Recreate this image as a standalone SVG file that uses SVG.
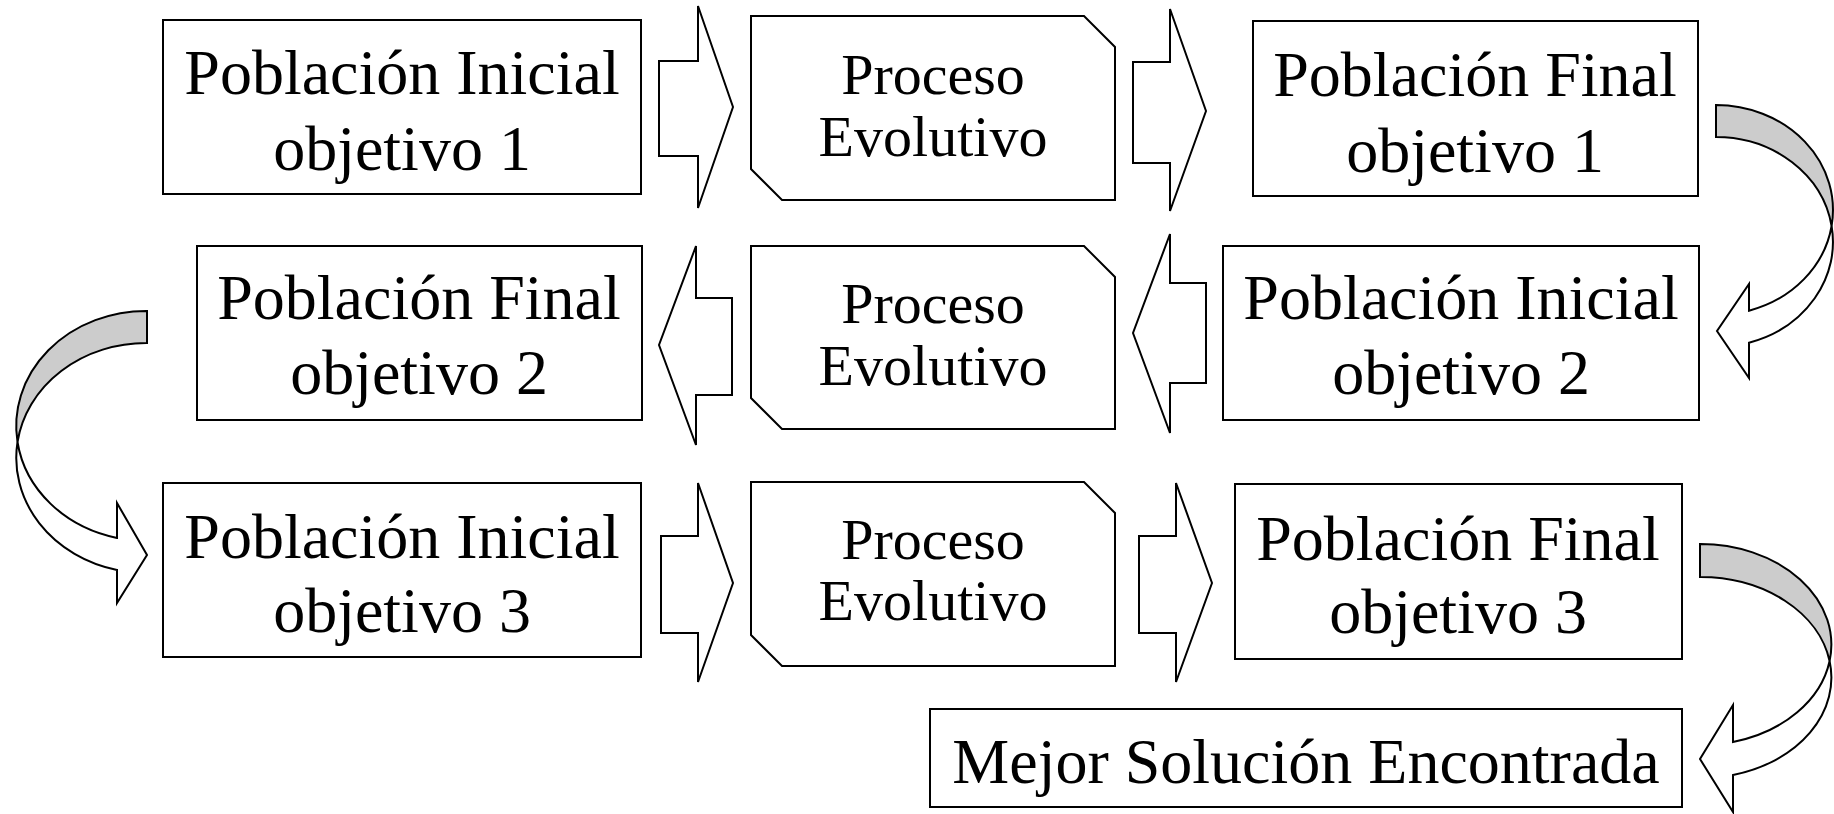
<svg xmlns="http://www.w3.org/2000/svg" width="1834" height="814" viewBox="0 0 1834 814">
  <style>
    .box { fill: #ffffff; stroke: #000000; stroke-width: 2; }
    .arrow { fill: #ffffff; stroke: #000000; stroke-width: 2; stroke-linejoin: miter; }
    .back { fill: #cccccc; stroke: #000000; stroke-width: 2; }
    .big { font-family: "Liberation Serif", "Times New Roman", serif; font-size: 64px; fill: #000000; text-anchor: middle; }
    .proc { font-family: "Liberation Serif", "Times New Roman", serif; font-size: 58px; fill: #000000; text-anchor: middle; }
  </style>
  <rect width="1834" height="814" fill="#ffffff"/>

  <!-- Row 1 -->
  <g id="pob-ini-1">
    <rect class="box" x="163" y="20" width="478" height="174"/>
    <text class="big" x="402" y="94">Población Inicial</text>
    <text class="big" x="402" y="170">objetivo 1</text>
  </g>
  <g id="proc-1">
    <path class="box" d="M751,16 H1084 L1115,47 V200 H782 L751,169 Z"/>
    <text class="proc" x="933" y="94">Proceso</text>
    <text class="proc" x="933" y="156">Evolutivo</text>
  </g>
  <g id="pob-fin-1">
    <rect class="box" x="1253" y="21" width="445" height="175"/>
    <text class="big" x="1475" y="96">Población Final</text>
    <text class="big" x="1475" y="172">objetivo 1</text>
  </g>

  <!-- Row 2 -->
  <g id="pob-fin-2">
    <rect class="box" x="197" y="246" width="445" height="174"/>
    <text class="big" x="419" y="319">Población Final</text>
    <text class="big" x="419" y="394">objetivo 2</text>
  </g>
  <g id="proc-2">
    <path class="box" d="M751,246 H1084 L1115,277 V429 H782 L751,398 Z"/>
    <text class="proc" x="933" y="323">Proceso</text>
    <text class="proc" x="933" y="385">Evolutivo</text>
  </g>
  <g id="pob-ini-2">
    <rect class="box" x="1223" y="246" width="476" height="174"/>
    <text class="big" x="1461" y="319">Población Inicial</text>
    <text class="big" x="1461" y="394">objetivo 2</text>
  </g>

  <!-- Row 3 -->
  <g id="pob-ini-3">
    <rect class="box" x="163" y="483" width="478" height="174"/>
    <text class="big" x="402" y="558">Población Inicial</text>
    <text class="big" x="402" y="632">objetivo 3</text>
  </g>
  <g id="proc-3">
    <path class="box" d="M751,482 H1084 L1115,513 V666 H782 L751,635 Z"/>
    <text class="proc" x="933" y="559">Proceso</text>
    <text class="proc" x="933" y="620">Evolutivo</text>
  </g>
  <g id="pob-fin-3">
    <rect class="box" x="1235" y="484" width="447" height="175"/>
    <text class="big" x="1458" y="560">Población Final</text>
    <text class="big" x="1458" y="633">objetivo 3</text>
  </g>

  <!-- Row 4 -->
  <g id="mejor-solucion">
    <rect class="box" x="930" y="709" width="752" height="98"/>
    <text class="big" x="1306" y="783">Mejor Solución Encontrada</text>
  </g>

  <g id="connectors">
    <!-- straight block arrows -->
    <polygon class="arrow" points="659,61 698,61 698,6 733,107 698,208 698,156 659,156"/>
    <polygon class="arrow" points="1133,62 1170,62 1170,9 1206,111 1170,211 1170,163 1133,163"/>
    <polygon class="arrow" points="732,298 696,298 696,246 659,345 696,445 696,395 732,395"/>
    <polygon class="arrow" points="1206,283 1170,283 1170,234 1133,333 1170,433 1170,383 1206,383"/>
    <polygon class="arrow" points="661,536 698,536 698,483 733,583 698,682 698,633 661,633"/>
    <polygon class="arrow" points="1139,536 1176,536 1176,483 1212,583 1176,682 1176,633 1139,633"/>

    <!-- curved arrow: final 1 to initial 2 -->
    <path class="back" d="M1716,105 A117,105 0 0 1 1831.6,226 A117,105 0 0 0 1716,137 Z"/>
    <path class="arrow" d="M1831.6,226 A117,105 0 0 1 1749,342.7 L1749,378 L1717,331 L1749,284 L1749,310.7 A117,105 0 0 0 1831.6,226 Z"/>

    <!-- curved arrow: final 2 to initial 3 -->
    <path class="back" d="M147,311 A130,115 0 0 0 17.5,442 A130,115 0 0 1 147,343 Z"/>
    <path class="arrow" d="M17.5,442 A130,115 0 0 0 117,569.9 L117,603 L147,555 L117,503 L117,537.9 A130,115 0 0 1 17.5,442 Z"/>

    <!-- curved arrow: final 3 to best solution -->
    <path class="back" d="M1700,544 A131,100.6 0 0 1 1829.6,661 A131,100.6 0 0 0 1700,577 Z"/>
    <path class="arrow" d="M1829.6,661 A131,100.6 0 0 1 1733,775 L1733,812 L1700,759 L1733,705 L1733,742 A131,100.6 0 0 0 1829.6,661 Z"/>
  </g>
</svg>
